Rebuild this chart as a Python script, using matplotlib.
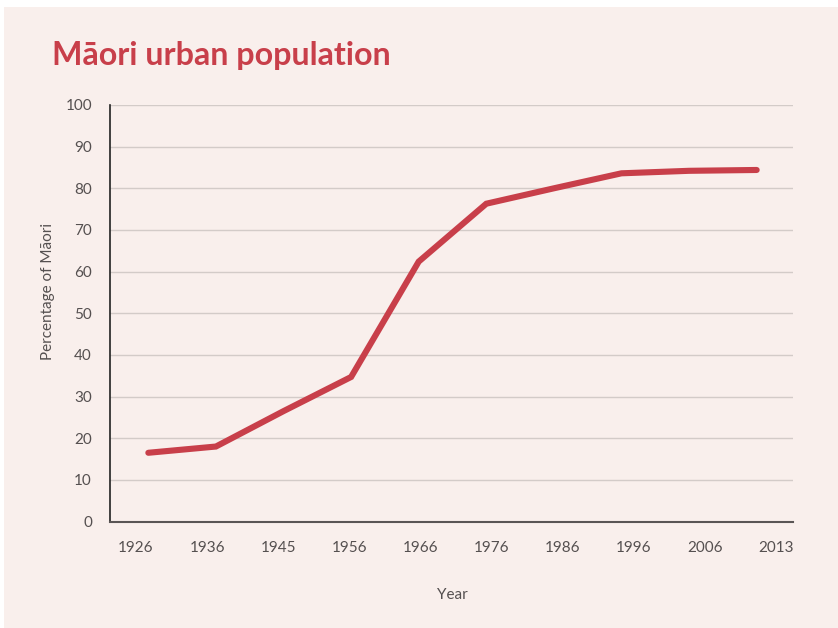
import matplotlib
matplotlib.use("Agg")
import matplotlib.pyplot as plt
from matplotlib.patches import Rectangle
import numpy as np

years = ["1926", "1936", "1945", "1956", "1966", "1976", "1986", "1996", "2006", "2013"]
urban_pct = [16.5, 18.0, 26.5, 34.7, 62.4, 76.3, 80.0, 83.6, 84.2, 84.4]
y_ticks = [0, 10, 20, 30, 40, 50, 60, 70, 80, 90, 100]

BG = "#f9efec"
RED = "#c83f4a"
TXT = "#555050"
FONT = "Lato"

fig = plt.figure(figsize=(8.38, 6.28), dpi=100)
fig.patch.set_facecolor("white")
fig.patches.append(Rectangle((4 / 838, 0), 1, 1 - 7 / 628, transform=fig.transFigure,
                             facecolor=BG, edgecolor="none", zorder=-10))

ax = fig.add_axes([110 / 838, 1 - 521.5 / 628, (792.5 - 110) / 838, (521.5 - 105) / 628])
ax.set_facecolor(BG)

x = np.arange(len(years))
ax.plot(x, urban_pct, color=RED, lw=4.4, solid_capstyle="round", solid_joinstyle="miter", zorder=3)

ax.set_xlim(-0.567, 9.53)
ax.set_ylim(0, 100)
ax.set_yticks(y_ticks)
ax.set_yticklabels([str(v) for v in y_ticks], fontsize=11, color=TXT, fontfamily=FONT)
label_pos = [-0.182 + i * 1.0518 for i in range(len(years))]
ax.set_xticks(label_pos)
ax.set_xticklabels(years, fontsize=11, color=TXT, fontfamily=FONT)
ax.tick_params(axis="y", length=0, pad=13)
ax.tick_params(axis="x", length=0, pad=14)

ax.grid(axis="y", color="#d3cbc8", lw=1.0)
ax.grid(axis="x", visible=False)
ax.set_axisbelow(True)
for s in ["top", "right"]:
    ax.spines[s].set_visible(False)
ax.spines["left"].set_color("#222222")
ax.spines["left"].set_linewidth(1.2)
ax.spines["bottom"].set_color("#5a5555")
ax.spines["bottom"].set_linewidth(1.5)

fig.text(52 / 838, 1 - 55 / 628, "Māori urban population", fontsize=23.2, fontweight="bold",
         color=RED, fontfamily=FONT, ha="left", va="center")
fig.text(48 / 838, 1 - 292 / 628, "Percentage of Māori", rotation=90, fontsize=11,
         color=TXT, fontfamily=FONT, ha="center", va="center")
fig.text(452 / 838, 1 - 595 / 628, "Year", fontsize=11, color=TXT, fontfamily=FONT,
         ha="center", va="center")

fig.savefig("out.png", dpi=100, facecolor=fig.get_facecolor())
